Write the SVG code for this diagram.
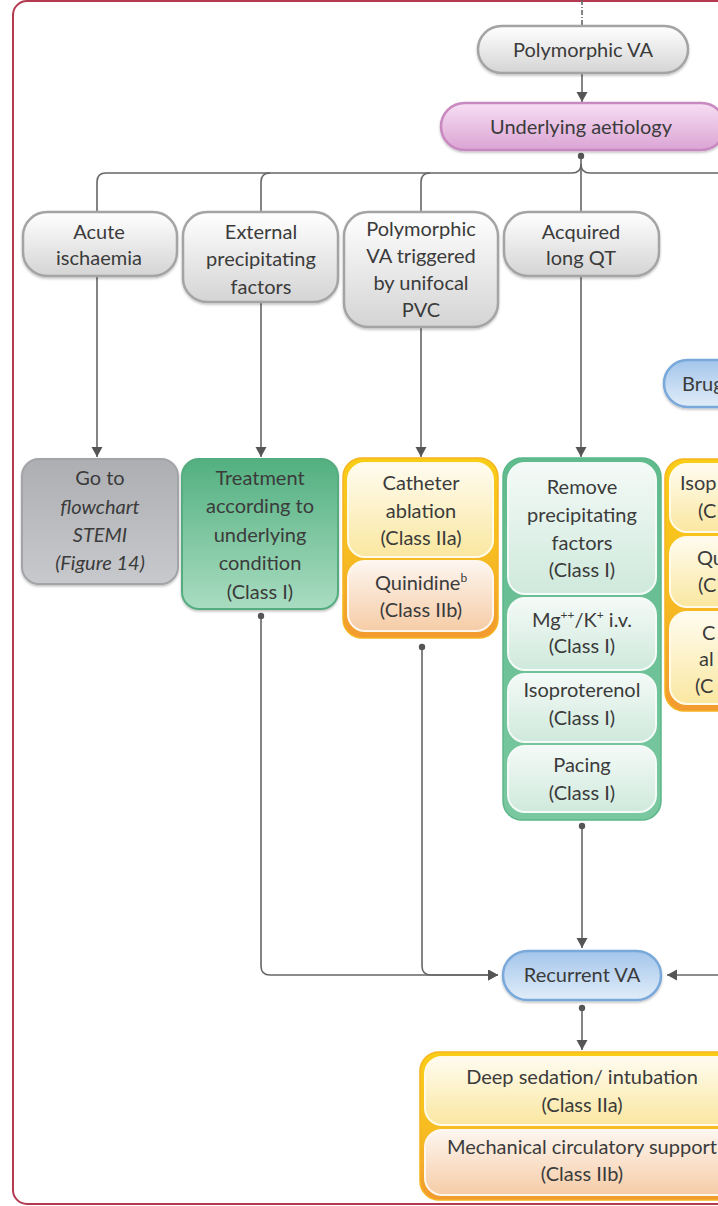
<svg xmlns="http://www.w3.org/2000/svg" width="718" height="1206" viewBox="0 0 718 1206">
<style>
text{font-family:Lato,"Liberation Sans",sans-serif;font-size:20px;fill:#3b3b3b;text-anchor:middle}
.l{text-anchor:start}
.it{font-style:italic}
.con{fill:none;stroke:#666;stroke-width:1.6}
.gp{fill:url(#gGray);stroke:#a4a4a4;stroke-width:2.5}
.pk{fill:url(#gPink);stroke:#c888c0;stroke-width:2.5}
.bl{fill:url(#gBlue);stroke:#79a8db;stroke-width:2.5}
.dg{fill:url(#gDark);stroke:#a3a4a8;stroke-width:2}
.gr{fill:url(#gGreen);stroke:#55ad7f;stroke-width:2}
.yo{fill:url(#gYO);stroke:#f5b420;stroke-width:1.5}
.gc{fill:url(#gGC);stroke:#5cb68a;stroke-width:1.5}
.sy{fill:url(#gSY);stroke:#fffbe8;stroke-width:2}
.so{fill:url(#gSO);stroke:#fff6ee;stroke-width:2}
.sg{fill:url(#gSG);stroke:#f4faf7;stroke-width:2}
.dot{fill:#555}
</style>
<defs>
<linearGradient id="gGray" x1="0" y1="0" x2="0" y2="1"><stop offset="0" stop-color="#ffffff"/><stop offset="1" stop-color="#d4d4d4"/></linearGradient>
<linearGradient id="gPink" x1="0" y1="0" x2="0" y2="1"><stop offset="0" stop-color="#f7def3"/><stop offset="1" stop-color="#dba4d4"/></linearGradient>
<linearGradient id="gBlue" x1="0" y1="0" x2="0" y2="1"><stop offset="0" stop-color="#a3c5eb"/><stop offset="1" stop-color="#e1edf9"/></linearGradient>
<linearGradient id="gDark" x1="0" y1="0" x2="0" y2="1"><stop offset="0" stop-color="#adaeb2"/><stop offset="1" stop-color="#c8c9cc"/></linearGradient>
<linearGradient id="gGreen" x1="0" y1="0" x2="0" y2="1"><stop offset="0" stop-color="#52b080"/><stop offset="1" stop-color="#a9dcc1"/></linearGradient>
<linearGradient id="gYO" x1="0" y1="0" x2="0" y2="1"><stop offset="0" stop-color="#f9cd16"/><stop offset="0.55" stop-color="#f6bb22"/><stop offset="1" stop-color="#f29a30"/></linearGradient>
<linearGradient id="gGC" x1="0" y1="0" x2="0" y2="1"><stop offset="0" stop-color="#5fba8c"/><stop offset="1" stop-color="#7ac8a0"/></linearGradient>
<linearGradient id="gSY" x1="0" y1="0" x2="0" y2="1"><stop offset="0" stop-color="#fffcf0"/><stop offset="1" stop-color="#fae7a0"/></linearGradient>
<linearGradient id="gSO" x1="0" y1="0" x2="0" y2="1"><stop offset="0" stop-color="#fdf6f0"/><stop offset="1" stop-color="#f6cca6"/></linearGradient>
<linearGradient id="gSG" x1="0" y1="0" x2="0" y2="1"><stop offset="0" stop-color="#f4faf7"/><stop offset="1" stop-color="#cfe9dc"/></linearGradient>
<filter id="sh" x="-10%" y="-10%" width="120%" height="130%"><feDropShadow dx="0" dy="1.5" stdDeviation="1.2" flood-color="#000" flood-opacity="0.25"/></filter>
<marker id="arr" markerUnits="userSpaceOnUse" markerWidth="12" markerHeight="12" refX="10" refY="5.5" orient="auto"><path d="M0,0 L10,5.5 L0,11 z" fill="#555"/></marker>
</defs>
<rect id="frame" x="13" y="1" width="800" height="1203" rx="14" fill="#fff" stroke="#b33a50" stroke-width="2"/>
<g id="connectors">
<path class="con" d="M582,0 V28" stroke-dasharray="5 2 1 2"/>
<path class="con" d="M582,73 V102" marker-end="url(#arr)"/>
<path class="con" d="M581,156 V212"/>
<path class="con" d="M581,164 Q581,173 572,173 H106 Q97,173 97,182 V212"/>
<path class="con" d="M270,173 Q261,173 261,182 V212"/>
<path class="con" d="M430,173 Q421,173 421,182 V212"/>
<path class="con" d="M581,164 Q581,173 590,173 H718"/>
<path class="con" d="M97,277 V457" marker-end="url(#arr)"/>
<path class="con" d="M261,303 V457" marker-end="url(#arr)"/>
<path class="con" d="M421,328 V457" marker-end="url(#arr)"/>
<path class="con" d="M581,277 V457" marker-end="url(#arr)"/>
<path class="con" d="M261,616 V966 Q261,975 270,975 H498" marker-end="url(#arr)"/>
<path class="con" d="M422,647 V966 Q422,975 431,975 H498" marker-end="url(#arr)"/>
<path class="con" d="M582,826 V948" marker-end="url(#arr)"/>
<path class="con" d="M718,975 H667" marker-end="url(#arr)"/>
<path class="con" d="M582,1008 V1050" marker-end="url(#arr)"/>
<circle class="dot" cx="581" cy="156" r="3.2"/>
<circle class="dot" cx="261" cy="616" r="3.2"/>
<circle class="dot" cx="422" cy="647" r="3.2"/>
<circle class="dot" cx="582" cy="826" r="3.2"/>
<circle class="dot" cx="582" cy="1008" r="3.2"/>
</g>
<g id="polymorphic-va"><rect class="gp" filter="url(#sh)" x="478" y="26" width="210" height="47" rx="23.5"/><text x="583" y="57">Polymorphic VA</text></g>
<g id="underlying-aetiology"><rect class="pk" filter="url(#sh)" x="441" y="103" width="284" height="47" rx="23.5"/><text x="581" y="134">Underlying aetiology</text></g>
<g id="acute-ischaemia"><rect class="gp" filter="url(#sh)" x="23" y="212" width="154" height="64" rx="24"/><text x="99"><tspan x="99" y="239">Acute</tspan><tspan x="99" y="265">ischaemia</tspan></text></g>
<g id="external-factors"><rect class="gp" filter="url(#sh)" x="183" y="212" width="155" height="90" rx="24"/><text x="261"><tspan x="261" y="239">External</tspan><tspan x="261" y="266">precipitating</tspan><tspan x="261" y="294">factors</tspan></text></g>
<g id="pvc-triggered"><rect class="gp" filter="url(#sh)" x="344" y="212" width="154" height="115" rx="24"/><text x="421"><tspan x="421" y="236">Polymorphic</tspan><tspan x="421" y="263">VA triggered</tspan><tspan x="421" y="290">by unifocal</tspan><tspan x="421" y="317">PVC</tspan></text></g>
<g id="acquired-long-qt"><rect class="gp" filter="url(#sh)" x="504" y="212" width="155" height="64" rx="24"/><text x="581"><tspan x="581" y="239">Acquired</tspan><tspan x="581" y="265">long QT</tspan></text></g>
<g id="brugada"><rect class="bl" filter="url(#sh)" x="664" y="360" width="160" height="47" rx="23.5"/><text class="l" x="682" y="391">Brug</text></g>
<g id="go-to-stemi"><rect class="dg" filter="url(#sh)" x="22" y="459" width="156" height="125" rx="17"/><text class="it" x="100"><tspan x="100" y="485" font-style="normal">Go to</tspan><tspan x="100" y="514">flowchart</tspan><tspan x="100" y="542">STEMI</tspan><tspan x="100" y="570">(Figure 14)</tspan></text></g>
<g id="treatment-underlying"><rect class="gr" filter="url(#sh)" x="182" y="459" width="156" height="150" rx="17"/><text x="260"><tspan x="260" y="485">Treatment</tspan><tspan x="260" y="513">according to</tspan><tspan x="260" y="542">underlying</tspan><tspan x="260" y="570">condition</tspan><tspan x="260" y="599">(Class I)</tspan></text></g>
<g id="ablation-quinidine"><rect class="yo" x="343" y="458" width="155" height="180" rx="19"/><rect class="sy" x="348" y="463" width="145" height="94" rx="17"/><rect class="so" x="348" y="561" width="145" height="70" rx="17"/><text x="421"><tspan x="421" y="490">Catheter</tspan><tspan x="421" y="518">ablation</tspan><tspan x="421" y="545">(Class IIa)</tspan></text><text x="421"><tspan x="421" y="590">Quinidine<tspan font-size="12" dy="-8">b</tspan></tspan><tspan x="421" y="617">(Class IIb)</tspan></text></g>
<g id="acquired-qt-treatment"><rect class="gc" x="503" y="458" width="158" height="362" rx="19"/><rect class="sg" x="508" y="463" width="148" height="131" rx="17"/><rect class="sg" x="508" y="598" width="148" height="72" rx="17"/><rect class="sg" x="508" y="674" width="148" height="68" rx="17"/><rect class="sg" x="508" y="746" width="148" height="66" rx="17"/><text x="582"><tspan x="582" y="494">Remove</tspan><tspan x="582" y="522">precipitating</tspan><tspan x="582" y="550">factors</tspan><tspan x="582" y="577">(Class I)</tspan></text><text x="582"><tspan x="582" y="627">Mg<tspan font-size="12" dy="-8">++</tspan><tspan dy="8">/K</tspan><tspan font-size="12" dy="-8">+</tspan><tspan dy="8"> i.v.</tspan></tspan><tspan x="582" y="653">(Class I)</tspan></text><text x="582"><tspan x="582" y="697">Isoproterenol</tspan><tspan x="582" y="725">(Class I)</tspan></text><text x="582"><tspan x="582" y="772">Pacing</tspan><tspan x="582" y="800">(Class I)</tspan></text></g>
<g id="brugada-treatment"><rect class="yo" x="665" y="459" width="160" height="252" rx="19"/><rect class="sy" x="670" y="464" width="150" height="68" rx="17"/><rect class="sy" x="670" y="537" width="150" height="70" rx="17"/><rect class="sy" x="670" y="612" width="150" height="92" rx="17"/><text class="l" x="680" y="490">Isop</text><text class="l" x="698" y="518">(C</text><text class="l" x="697" y="565">Qu</text><text class="l" x="698" y="592">(C</text><text class="l" x="702" y="640">C</text><text class="l" x="699" y="666">al</text><text class="l" x="695" y="693">(C</text></g>
<g id="recurrent-va"><rect class="bl" filter="url(#sh)" x="503" y="951" width="158" height="49" rx="24.5"/><text x="582" y="982">Recurrent VA</text></g>
<g id="sedation-support"><rect class="yo" x="420" y="1052" width="325" height="148" rx="19"/><rect class="sy" x="425" y="1057" width="315" height="68" rx="17"/><rect class="so" x="425" y="1130" width="315" height="65" rx="17"/><text x="582"><tspan x="582" y="1084">Deep sedation/ intubation</tspan><tspan x="582" y="1112">(Class IIa)</tspan></text><text x="582"><tspan x="582" y="1154">Mechanical circulatory support</tspan><tspan x="582" y="1181">(Class IIb)</tspan></text></g>
</svg>
